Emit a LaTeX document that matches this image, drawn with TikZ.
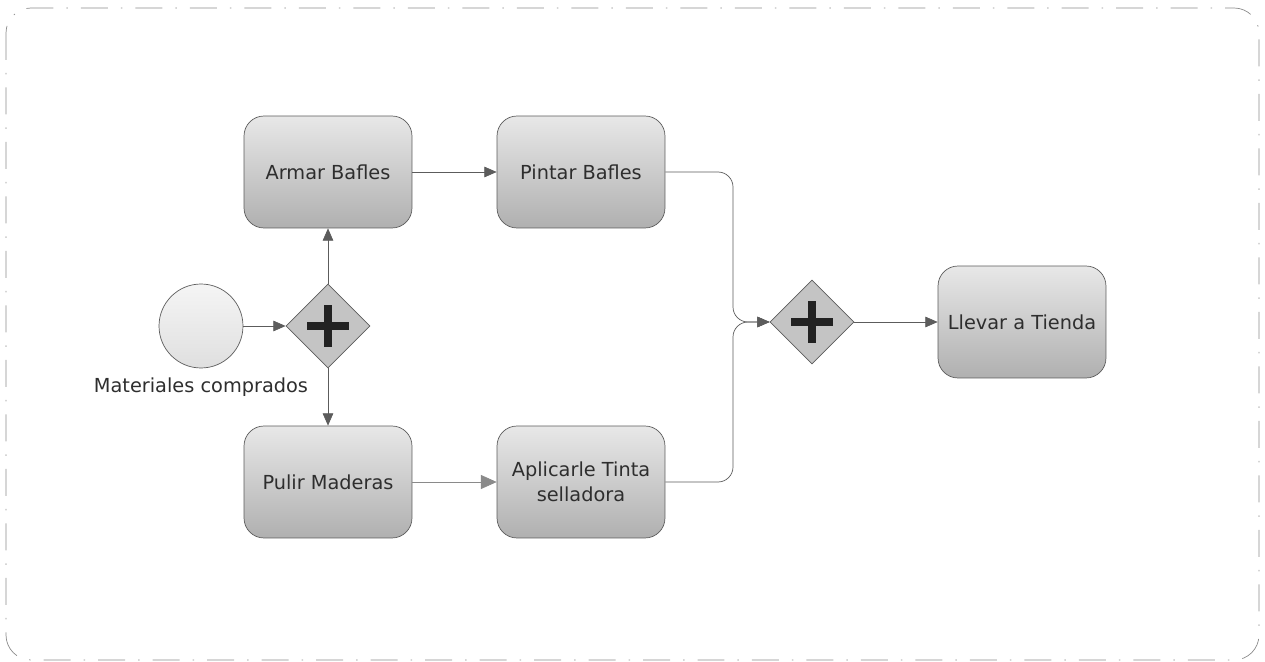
\documentclass[tikz,border=0pt]{standalone}
\usepackage{fontspec}
\setsansfont{DejaVu Sans}
\usetikzlibrary{arrows.meta,shapes.geometric,positioning}
\definecolor{linegray}{HTML}{5C5C5C}
\definecolor{lightline}{HTML}{8A8A8A}
\definecolor{bordergray}{HTML}{8C8C8C}
\definecolor{textgray}{HTML}{2E2E2E}
\definecolor{boxtop}{HTML}{E8E8E8}
\definecolor{boxbot}{HTML}{B0B0B0}
\definecolor{gatefill}{HTML}{C4C4C4}
\definecolor{plusblack}{HTML}{222222}

\tikzset{
  task/.style={draw=linegray, rounded corners=0.4cm, top color=boxtop, bottom color=boxbot,
    minimum width=3.36cm, minimum height=2.24cm, align=center, text=textgray,
    font=\sffamily\fontsize{11}{14.5}\selectfont},
  gate/.style={diamond, draw=linegray, fill=gatefill, minimum size=1.68cm, inner sep=0pt},
  startev/.style={circle, draw=linegray, top color=gray!8, bottom color=gray!25,
    minimum size=1.68cm, inner sep=0pt},
  plus/.style={line width=4.4pt, plusblack},
  flow/.style={draw=linegray, -{Triangle[length=7pt,width=6pt]}},
  flowlight/.style={draw=lightline, -{Triangle[length=9pt,width=8pt]}},
}

\begin{document}
\begin{tikzpicture}[x=0.02cm,y=-0.02cm]
  \useasboundingbox (0,0) rectangle (1265,662);
  \draw [bordergray, dash pattern=on 0.54cm off 0.26cm on 0.03cm off 0.26cm, rounded corners=0.5cm]
    (6,8) rectangle (1259,660);

  % Events and gateways
  \node [startev] (start) at (201,326) {};
  \node [below=0.06cm of start, text=textgray, font=\sffamily\fontsize{11}{14.5}\selectfont] (startlbl) {Materiales comprados};
  \node [gate] (split) at (328,326) {};
  \node [gate] (join) at (812,322) {};
  \draw [plus] ([xshift=-0.42cm]split.center) -- ([xshift=0.42cm]split.center);
  \draw [plus] ([yshift=-0.42cm]split.center) -- ([yshift=0.42cm]split.center);
  \draw [plus] ([xshift=-0.42cm]join.center) -- ([xshift=0.42cm]join.center);
  \draw [plus] ([yshift=-0.42cm]join.center) -- ([yshift=0.42cm]join.center);

  % Tasks
  \node [task] (armar) at (328,172) {Armar Bafles};
  \node [task] (pintar) at (581,172) {Pintar Bafles};
  \node [task] (pulir) at (328,482) {Pulir Maderas};
  \node [task] (tinta) at (581,482) {Aplicarle Tinta\\selladora};
  \node [task] (tienda) at (1022,322) {Llevar a Tienda};

  % Flows
  \coordinate (merge) at (733,322);
  \draw [flow] (start) -- (split);
  \draw [flow] (split.north) -- (armar);
  \draw [flow] (split.south) -- (pulir);
  \draw [flow] (armar) -- (pintar);
  \draw [flowlight] (pulir) -- (tinta);
  \draw [flow, rounded corners=0.3cm] (pintar.east) -| (merge) -- (join.west);
  \draw [flow, rounded corners=0.3cm] (tinta.east) -| (merge) -- (join.west);
  \draw [flow] (join.east) -- (tienda);
\end{tikzpicture}
\end{document}
